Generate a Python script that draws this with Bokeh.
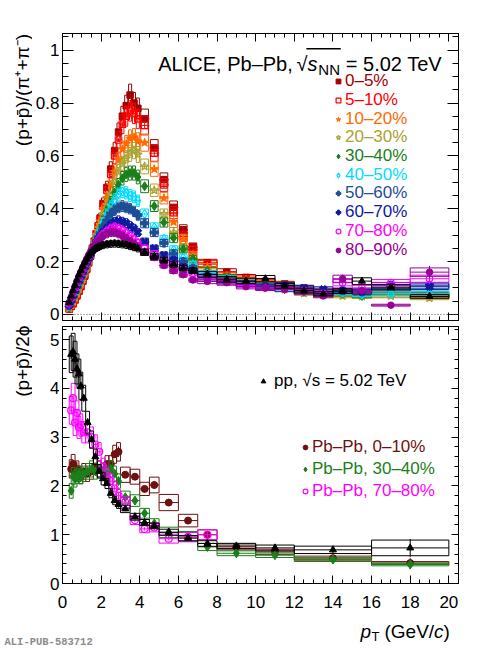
import numpy as np
from bokeh.plotting import figure
from bokeh.models import (ColumnDataSource, Range1d, LinearAxis, SingleIntervalTicker,
                          CustomJSTickFormatter, Span, Label, Legend, LegendItem, BoxAnnotation)
from bokeh.core.properties import value
from bokeh.layouts import column, row
from bokeh.embed import file_html
from bokeh.resources import INLINE

# ======================= DATA =======================
# upper panel: (p+pbar)/(pi+ + pi-) vs pT
pt_edges_top = [0.3, 0.4, 0.5, 0.6, 0.7, 0.8, 0.9, 1.0, 1.1, 1.2, 1.3, 1.4, 1.5, 1.6, 1.7, 1.8,
                1.9, 2.0, 2.2, 2.4, 2.6, 2.8, 3.0, 3.2, 3.4, 3.6, 3.8, 4.0, 4.5, 5.0, 5.5, 6.0,
                6.5, 7.0, 8.0, 9.0, 10.0, 11.0, 12.0, 13.0, 14.0, 15.0, 16.0, 18.0, 20.0]

centrality_labels = ["0–5%", "5–10%", "10–20%", "20–30%", "30–40%",
                     "40–50%", "50–60%", "60–70%", "70–80%", "80–90%"]

ratio_0_5 = [0.02, 0.03, 0.04, 0.055, 0.07, 0.088, 0.105,
             0.125, 0.145, 0.17, 0.195, 0.22, 0.248, 0.275, 0.305, 0.335, 0.365,
             0.42, 0.48, 0.55, 0.62, 0.69, 0.75, 0.79, 0.83, 0.80, 0.78,
             0.74, 0.63, 0.51, 0.405, 0.32, 0.255, 0.195,
             0.16, 0.14, 0.125, 0.115, 0.10, 0.09, 0.085, 0.08, 0.085, 0.07]
ratio_5_10 = [0.021, 0.032, 0.043, 0.057, 0.073, 0.09, 0.108,
              0.128, 0.15, 0.173, 0.198, 0.224, 0.25, 0.277, 0.305, 0.333, 0.36,
              0.41, 0.47, 0.53, 0.6, 0.66, 0.72, 0.75, 0.77, 0.76, 0.74,
              0.715, 0.61, 0.49, 0.385, 0.295, 0.245, 0.19,
              0.15, 0.135, 0.12, 0.11, 0.095, 0.085, 0.083, 0.075, 0.08, 0.075]
ratio_10_20 = [0.022, 0.035, 0.047, 0.062, 0.078, 0.096, 0.115,
               0.135, 0.157, 0.18, 0.203, 0.227, 0.252, 0.277, 0.302, 0.328, 0.352,
               0.395, 0.44, 0.49, 0.54, 0.585, 0.625, 0.645, 0.665, 0.67, 0.655,
               0.65, 0.55, 0.44, 0.35, 0.285, 0.225, 0.18,
               0.145, 0.13, 0.118, 0.105, 0.093, 0.08, 0.075, 0.07, 0.072, 0.065]
ratio_20_30 = [0.025, 0.038, 0.052, 0.067, 0.084, 0.102, 0.121,
               0.141, 0.162, 0.184, 0.206, 0.228, 0.25, 0.272, 0.294, 0.316, 0.338,
               0.375, 0.415, 0.455, 0.5, 0.54, 0.57, 0.59, 0.61, 0.62, 0.605,
               0.56, 0.47, 0.38, 0.31, 0.25, 0.205, 0.165,
               0.135, 0.12, 0.105, 0.095, 0.08, 0.072, 0.07, 0.068, 0.07, 0.062]
ratio_30_40 = [0.028, 0.042, 0.057, 0.073, 0.09, 0.108, 0.127,
               0.146, 0.166, 0.186, 0.206, 0.226, 0.246, 0.266, 0.286, 0.305, 0.324,
               0.355, 0.39, 0.425, 0.46, 0.49, 0.515, 0.53, 0.535, 0.535, 0.52,
               0.485, 0.41, 0.348, 0.289, 0.247, 0.21, 0.165,
               0.14, 0.12, 0.11, 0.095, 0.085, 0.075, 0.078, 0.07, 0.085, 0.08]
ratio_40_50 = [0.03, 0.046, 0.062, 0.079, 0.097, 0.115, 0.134,
               0.153, 0.172, 0.191, 0.21, 0.229, 0.248, 0.267, 0.285, 0.303, 0.32,
               0.35, 0.38, 0.41, 0.435, 0.455, 0.465, 0.46, 0.45, 0.445, 0.43,
               0.38, 0.33, 0.285, 0.245, 0.215, 0.19, 0.155,
               0.135, 0.12, 0.11, 0.1, 0.09, 0.08, 0.082, 0.075, 0.078, 0.08]
ratio_50_60 = [0.033, 0.05, 0.067, 0.085, 0.103, 0.121, 0.139,
               0.157, 0.175, 0.193, 0.211, 0.228, 0.245, 0.262, 0.278, 0.293, 0.307,
               0.33, 0.355, 0.38, 0.395, 0.405, 0.41, 0.405, 0.4, 0.39, 0.375,
               0.345, 0.31, 0.27, 0.23, 0.2, 0.175, 0.15,
               0.13, 0.115, 0.105, 0.11, 0.095, 0.085, 0.09, 0.085, 0.11, 0.11]
ratio_60_70 = [0.036, 0.055, 0.073, 0.092, 0.11, 0.128, 0.146,
               0.163, 0.18, 0.197, 0.213, 0.228, 0.243, 0.257, 0.27, 0.282, 0.293,
               0.31, 0.325, 0.34, 0.35, 0.355, 0.35, 0.345, 0.335, 0.325, 0.31,
               0.275, 0.25, 0.225, 0.205, 0.18, 0.165, 0.14,
               0.125, 0.115, 0.105, 0.11, 0.1, 0.095, 0.09, 0.085, 0.11, 0.105]
ratio_70_80 = [0.04, 0.06, 0.08, 0.1, 0.119, 0.137, 0.155,
               0.172, 0.189, 0.205, 0.22, 0.234, 0.247, 0.259, 0.27, 0.28, 0.29,
               0.303, 0.315, 0.325, 0.33, 0.325, 0.318, 0.308, 0.298, 0.285, 0.272,
               0.25, 0.23, 0.205, 0.19, 0.17, 0.155, 0.135,
               0.125, 0.11, 0.1, 0.095, 0.09, 0.08, 0.12, 0.1, 0.12, 0.135]
ratio_80_90 = [0.045, 0.066, 0.087, 0.107, 0.126, 0.144, 0.161,
               0.178, 0.194, 0.209, 0.223, 0.236, 0.248, 0.259, 0.269, 0.278, 0.286,
               0.297, 0.305, 0.31, 0.31, 0.305, 0.298, 0.288, 0.278, 0.268, 0.255,
               0.235, 0.215, 0.185, 0.165, 0.15, 0.13, 0.125,
               0.12, 0.105, 0.1, 0.095, 0.085, 0.07, 0.135, 0.09, 0.035, 0.16]
ratio_pp = [0.045, 0.07, 0.09, 0.11, 0.13, 0.15, 0.167,
            0.183, 0.198, 0.21, 0.222, 0.232, 0.24, 0.246, 0.251, 0.255, 0.258,
            0.262, 0.265, 0.267, 0.268, 0.267, 0.265, 0.263, 0.258, 0.254, 0.249,
            0.235, 0.22, 0.205, 0.19, 0.175, 0.165, 0.152,
            0.133, 0.127, 0.135, 0.108, 0.09, 0.078, 0.088, 0.126, 0.103, 0.068]

stat_rel_top = [0.01, 0.01, 0.01, 0.01, 0.01, 0.01, 0.01,
                0.01, 0.01, 0.01, 0.01, 0.01, 0.01, 0.01, 0.01, 0.01, 0.01,
                0.01, 0.01, 0.01, 0.01, 0.01, 0.012, 0.012, 0.014, 0.015, 0.016,
                0.015, 0.02, 0.025, 0.03, 0.035, 0.04, 0.04,
                0.05, 0.06, 0.07, 0.08, 0.09, 0.1, 0.12, 0.12, 0.12, 0.15]
sys_rel_top = [0.06, 0.06, 0.06, 0.06, 0.05, 0.05, 0.05,
               0.05, 0.05, 0.05, 0.05, 0.05, 0.05, 0.05, 0.05, 0.05, 0.05,
               0.05, 0.05, 0.05, 0.05, 0.05, 0.05, 0.05, 0.05, 0.05, 0.05,
               0.05, 0.05, 0.05, 0.06, 0.06, 0.06, 0.07,
               0.08, 0.08, 0.09, 0.09, 0.1, 0.1, 0.1, 0.1, 0.1, 0.1]

# lower panel: (p+pbar)/2phi vs pT
pt_edges_bot = [0.4, 0.5, 0.6, 0.7, 0.8, 0.9, 1.0, 1.2, 1.4, 1.6, 1.8, 2.0, 2.2, 2.4, 2.6,
                2.8, 3.0, 3.5, 4.0, 4.5, 5.0, 6.0, 7.0, 8.0, 10.0, 12.0, 16.0, 20.0]
phi_pp = [4.7, 4.75, 4.6, 4.4, 4.3, 4.05, 3.8, 3.3, 2.95, 2.6, 2.3, 2.15, 2.05, 1.85, 1.7,
          1.62, 1.53, 1.37, 1.25, 1.18, 1.05, 0.93, 0.82, 0.77, 0.73, 0.69, 0.73]
phi_0_10 = [2.35, 2.45, 2.3, 2.35, 2.25, 2.2, 2.3, 2.25, 2.3, 2.4, 2.35, 2.3, 2.45, 2.45, 2.65,
            2.7, 2.23, 2.19, 1.94, 2.02, 1.66, 1.29, 1.0, 0.75, 0.65, 0.52, 0.42]
phi_30_40 = [1.9, 2.2, 2.15, 2.2, 2.25, 2.2, 2.25, 2.3, 2.35, 2.3, 2.35, 2.3, 2.25, 2.35, 2.25,
             2.1, 1.77, 1.7, 1.44, 1.23, 1.05, 0.97, 0.75, 0.62, 0.58, 0.49, 0.39]
phi_70_80 = [3.55, 3.8, 3.3, 3.5, 3.2, 3.25, 3.1, 3.1, 3.0, 2.85, 2.7, 2.4, 2.2, 2.1, 1.95,
             1.8, 1.67, 1.3, 1.12, 1.15, 0.92, 0.95, 1.0]
stat_rel_bot = [0.02, 0.02, 0.02, 0.02, 0.02, 0.02, 0.02, 0.02, 0.02, 0.02, 0.02, 0.02, 0.02,
                0.03, 0.03, 0.04, 0.03, 0.03, 0.03, 0.04, 0.04, 0.05, 0.06, 0.06, 0.08, 0.1, 0.25]
sys_rel_pp_bot = [0.08, 0.08, 0.08, 0.07, 0.07, 0.07, 0.07, 0.07, 0.06, 0.06, 0.06, 0.06, 0.05,
                  0.05, 0.05, 0.05, 0.05, 0.05, 0.05, 0.05, 0.06, 0.06, 0.07, 0.07, 0.08, 0.11, 0.22]
sys_rel_pbpb_bot = [0.08, 0.08, 0.08, 0.07, 0.07, 0.07, 0.07, 0.07, 0.07, 0.07, 0.07, 0.07, 0.07,
                    0.07, 0.07, 0.07, 0.07, 0.07, 0.07, 0.08, 0.1, 0.1, 0.1, 0.08, 0.08, 0.08, 0.07]

# ======================= LAYOUT / STYLE =======================
FONT = "Liberation Sans"
YS = 32                      # width of the strip holding the y titles
ML, MR = 29, 15              # main figure borders (left / right)
MAIN_W = 441
TOP_H, TOP_TB, TOP_BB = 325, 33, 5
BOT_TB, BOT_BB = 1, 33
BOT_H = 291
XS_H = 32
FL, FR = YS + ML, YS + MAIN_W - MR          # frame left/right (page px)
TOP_FT, TOP_FB = TOP_TB, TOP_H - TOP_BB     # 33 .. 320
BOT_FT, BOT_FB = TOP_H + BOT_TB, TOP_H + BOT_H - BOT_BB   # 326 .. 583
X_RANGE = (0.0, 20.5)
Y_TOP = (-0.023, 1.063)
Y_BOT = (0.0, 5.27)
STRIP_H = TOP_H + BOT_H      # 616
FULL_W = YS + MAIN_W         # 473


def tx(px):
    return X_RANGE[0] + (px - FL) * (X_RANGE[1] - X_RANGE[0]) / (FR - FL)


def ty_top(py):
    return Y_TOP[1] - (py - TOP_FT) * (Y_TOP[1] - Y_TOP[0]) / (TOP_FB - TOP_FT)


def make_fig(width, height, xr, yr, bl, br, bt, bb):
    p = figure(width=width, height=height, x_range=Range1d(*xr), y_range=Range1d(*yr),
               output_backend="svg", toolbar_location=None, x_axis_type=None, y_axis_type=None,
               min_border_left=bl, min_border_right=br, min_border_top=bt, min_border_bottom=bb)
    p.background_fill_color = "white"
    p.border_fill_color = "white"
    return p


def add_axis(p, place, interval, nminor, tin, minor_in, labels, standoff=3):
    ax = LinearAxis(ticker=SingleIntervalTicker(interval=interval, num_minor_ticks=nminor))
    ax.major_tick_in = int(tin)
    ax.major_tick_out = 0
    ax.minor_tick_in = int(minor_in)
    ax.minor_tick_out = 0
    ax.axis_line_color = "black"
    ax.major_tick_line_color = "black"
    ax.minor_tick_line_color = "black"
    if labels:
        ax.formatter = CustomJSTickFormatter(code="return String(Math.round(tick*100)/100);")
        ax.major_label_text_font = FONT
        ax.major_label_text_font_size = "17px"
        ax.major_label_text_color = "black"
        ax.major_label_standoff = standoff
    else:
        ax.formatter = CustomJSTickFormatter(code="return '';")
        ax.major_label_text_font_size = "0px"
        ax.major_label_standoff = 0
    p.add_layout(ax, place)


def draw_series(p, edges, vals, stat_rel, sys_rel, color, marker, filled, angle, size, panel):
    n = len(vals)
    lo = np.array(edges[:n], dtype=float)
    hi = np.array(edges[1:n + 1], dtype=float)
    y = np.array(vals, dtype=float)
    st = y * np.array(stat_rel[:n])
    sy = y * np.array(sys_rel[:n])
    xc = (lo + hi) / 2
    w = hi - lo
    if panel == "top":
        bw = np.where(w >= 1, w, np.maximum(0.8 * w, 0.15))
    else:
        bw = np.where(w >= 0.5, w, 0.2)
    src = ColumnDataSource(dict(x=xc, y=y, lo=lo, hi=hi, bl=xc - bw / 2, br=xc + bw / 2,
                                sb=y - sy, stp=y + sy, eb=y - st, et=y + st))
    p.quad(left="bl", right="br", bottom="sb", top="stp", source=src,
           fill_alpha=0, line_color=color, line_width=1)
    p.segment(x0="x", y0="eb", x1="x", y1="et", source=src, line_color=color, line_width=1)
    p.segment(x0="lo", y0="y", x1="hi", y1="y", source=src, line_color=color, line_width=1)
    r = p.scatter("x", "y", source=src, marker=marker, size=size, angle=angle,
                  fill_color=color if filled else None, line_color=color,
                  line_width=1 if filled else 1.2)
    return r


def add_entry(p, renderer, text, color, gx, cy, fbottom, fs="17px", standoff=0):
    gw, gh = 12, 18
    leg = Legend(items=[LegendItem(label=value(text), renderers=[renderer])],
                 location=(gx - FL - gw / 2, fbottom - cy - gh / 2),
                 padding=0, spacing=0, margin=0, glyph_width=gw, glyph_height=gh,
                 label_height=gh, label_width=0, label_standoff=standoff,
                 label_text_font=FONT, label_text_font_size=fs, label_text_color=color,
                 border_line_alpha=0, background_fill_alpha=0)
    p.add_layout(leg)


def text(p, x, y, s, size, color="black", style="normal", font=FONT, align="left",
         baseline="alphabetic", angle=0.0):
    p.add_layout(Label(x=x, y=y, text=s, text_font=font, text_font_size=size,
                       text_color=color, text_font_style=style, text_align=align,
                       text_baseline=baseline, angle=angle))


# ======================= TOP PANEL =======================
top = make_fig(MAIN_W, TOP_H, X_RANGE, Y_TOP, ML, MR, TOP_TB, TOP_BB)
top.outline_line_color = "black"
add_axis(top, "left", 0.2, 4, 11, 6, True)
add_axis(top, "right", 0.2, 4, 11, 6, False)
add_axis(top, "below", 2, 4, 8, 4, False)
add_axis(top, "above", 2, 4, 8, 4, False)
top.add_layout(Span(location=0, dimension="width", line_color="#555555",
                    line_dash="1 2", line_width=1))

top_series = [ratio_0_5, ratio_5_10, ratio_10_20, ratio_20_30, ratio_30_40,
              ratio_40_50, ratio_50_60, ratio_60_70, ratio_70_80, ratio_80_90]
top_styles = [("#a00000", "square", True, 0.0, 6.5),
              ("#ff0000", "square", False, 0.0, 6.5),
              ("#ff6a00", "star", True, 0.0, 9),
              ("#aaa232", "star", False, 0.0, 9),
              ("#1b7f1b", "diamond", True, 0.0, 9),
              ("#00dcff", "diamond", False, 0.0, 9),
              ("#1f4e96", "plus", True, 0.0, 8),
              ("#0c1ba0", "plus", True, np.pi / 4, 8),
              ("#ff00ff", "circle", False, 0.0, 6.5),
              ("#990099", "circle", True, 0.0, 6.5)]

top_renderers = []
for vals, (col, mk, fl, ang, sz) in zip(top_series, top_styles):
    top_renderers.append(draw_series(top, pt_edges_top, vals, stat_rel_top, sys_rel_top,
                                     col, mk, fl, ang, sz, "top"))
draw_series(top, pt_edges_top, ratio_pp, stat_rel_top, sys_rel_top,
            "black", "triangle", True, 0.0, 7, "top")

for i, (lab, r, st) in enumerate(zip(centrality_labels, top_renderers, top_styles)):
    add_entry(top, r, lab, st[0], 337, 82.2 + 18.7 * i, TOP_FB, standoff=1)

# header: ALICE, Pb–Pb, √s_NN = 5.02 TeV
text(top, tx(157), ty_top(63.3), "ALICE, Pb–Pb,", "20px")
text(top, tx(295.5), ty_top(63.3), "√", "20px")
text(top, tx(306.5), ty_top(63.3), "s", "20px", style="italic")
text(top, tx(317.5), ty_top(68.5), "NN", "15px")
text(top, tx(345), ty_top(63.3), "= 5.02 TeV", "20px")
top.add_layout(BoxAnnotation(left=tx(305.5), right=tx(340), top=ty_top(47.6), bottom=ty_top(48.9),
                             fill_color="black", fill_alpha=1, line_alpha=0))

# ======================= BOTTOM PANEL =======================
bot = make_fig(MAIN_W, BOT_H, X_RANGE, Y_BOT, ML, MR, BOT_TB, BOT_BB)
bot.outline_line_color = "black"
add_axis(bot, "left", 1, 5, 7, 4, True)
add_axis(bot, "right", 1, 5, 7, 4, False)
add_axis(bot, "below", 2, 4, 8, 4, True, standoff=12)
add_axis(bot, "above", 2, 4, 8, 4, False)

r_0_10 = draw_series(bot, pt_edges_bot, phi_0_10, stat_rel_bot, sys_rel_pbpb_bot,
                     "#6e1010", "circle", True, 0.0, 7, "bot")
r_30_40 = draw_series(bot, pt_edges_bot, phi_30_40, stat_rel_bot, sys_rel_pbpb_bot,
                      "#1b7f1b", "diamond", True, 0.0, 9, "bot")
r_70_80 = draw_series(bot, pt_edges_bot, phi_70_80, stat_rel_bot, sys_rel_pbpb_bot,
                      "#ff00ff", "circle", False, 0.0, 7, "bot")
r_pp = draw_series(bot, pt_edges_bot, phi_pp, stat_rel_bot, sys_rel_pp_bot,
                   "black", "triangle", True, 0.0, 7, "bot")

add_entry(bot, r_pp, "pp, √s = 5.02 TeV", "black", 262, 381.7, BOT_FB, standoff=5)
add_entry(bot, r_0_10, "Pb–Pb, 0–10%", "#6e1010", 304, 448, BOT_FB, standoff=1)
add_entry(bot, r_30_40, "Pb–Pb, 30–40%", "#1b7f1b", 304, 470, BOT_FB, standoff=1)
add_entry(bot, r_70_80, "Pb–Pb, 70–80%", "#ff00ff", 304, 492, BOT_FB, standoff=1)

# ======================= TITLE STRIPS =======================
# left strip (y titles); its data units are page pixels (y measured up from its bottom)
ystrip = make_fig(YS, STRIP_H, (0, YS), (0, STRIP_H), 0, 0, 0, 0)
ystrip.outline_line_color = None
text(ystrip, 21.5, STRIP_H - 33.5, "(p+p̄)/(π⁺+π⁻)", "19px", align="right",
     baseline="middle", angle=np.pi / 2)
text(ystrip, 21.5, STRIP_H - 325, "(p+p̄)/2ϕ", "19px", align="right",
     baseline="middle", angle=np.pi / 2)

# bottom strip (x title + publication id); data units are page pixels
xstrip = make_fig(FULL_W, XS_H, (0, FULL_W), (0, XS_H), 0, 0, 0, 0)
xstrip.outline_line_color = None
Y0 = STRIP_H + XS_H
text(xstrip, 360, Y0 - 631, "p", "19px", style="italic")
text(xstrip, 371, Y0 - 636, "T", "13px")
text(xstrip, 384, Y0 - 631, "(GeV/", "19px")
text(xstrip, 433.5, Y0 - 631, "c", "19px", style="italic")
text(xstrip, 443, Y0 - 631, ")", "19px")
text(xstrip, 4, Y0 - 641, "ALI-PUB-583712", "10.5px", color="#8c8c8c",
     style="bold", font="Liberation Mono")

layout = column(row(ystrip, column(top, bot)), xstrip)
open("out.html", "w").write(file_html(layout, INLINE, "ALICE p/pi and p/phi"))
